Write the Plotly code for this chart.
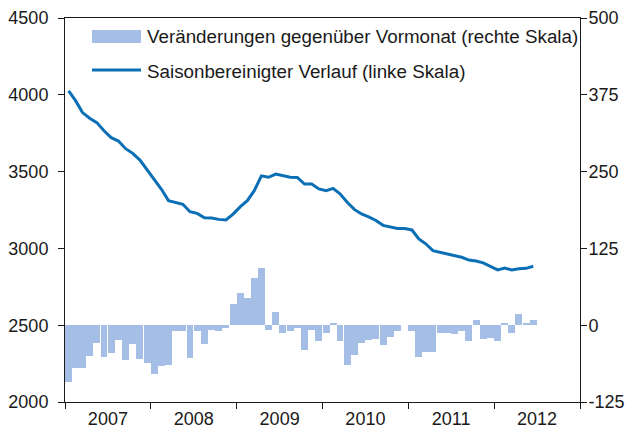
import pandas as pd
import plotly.graph_objects as go

# Monthly observations, January 2007 - June 2012
months = pd.date_range("2007-01-01", periods=66, freq="MS")

# Change versus previous month (right scale)
changes = [
    -92, -70, -70, -50, -29, -52, -45, -24, -57, -31, -55, -61,   # 2007
    -80, -67, -65, -9, -10, -54, -9, -30, -8, -10, -5, 35,         # 2008
    53, 44, 77, 93, -7, 22, -13, -9, -5, -41, -8, -26,             # 2009
    -12, 4, -26, -64, -49, -29, -24, -22, -33, -19, -10, 0,        # 2010
    -10, -51, -43, -43, -12, -13, -15, -10, -26, 9, -23, -21,      # 2011
    -26, 4, -13, 19, 4, 9,                                         # 2012
]

# Seasonally adjusted level (left scale)
level = [
    4025, 3962, 3884, 3847, 3819, 3766, 3721, 3699, 3649, 3619, 3575, 3510,
    3445, 3385, 3311, 3298, 3287, 3239, 3228, 3200, 3198, 3189, 3185, 3223,
    3272, 3311, 3376, 3472, 3463, 3484, 3473, 3463, 3462, 3419, 3419, 3387,
    3376, 3391, 3355, 3300, 3254, 3224, 3205, 3182, 3150, 3141, 3130, 3130,
    3120, 3062, 3030, 2985, 2975, 2963, 2952, 2942, 2924, 2918, 2906, 2884,
    2860, 2872, 2860, 2868, 2870, 2884,
]

left_ticks = [2000, 2500, 3000, 3500, 4000, 4500]
right_ticks = [-125, 0, 125, 250, 375, 500]
right_labels = ["-125", "0", "125", "250", "375", "500"]

bar_name = "Veränderungen gegenüber Vormonat (rechte Skala)"
line_name = "Saisonbereinigter Verlauf (linke Skala)"

BAR_COLOR = "#a4bee6"
LINE_COLOR = "#0b6fb6"
AXIS_COLOR = "#1a1a1a"
FONT = dict(family="Liberation Sans, Arial, sans-serif", size=18, color="#1a1a1a")
LEGEND_FONT = dict(FONT, size=18.8)

W, H = 626, 430
M = dict(l=65, r=46, t=18, b=28)
PW = W - M["l"] - M["r"]
PH = H - M["t"] - M["b"]


def px(x):
    return (x - M["l"]) / PW


def py(y):
    return (H - M["b"] - y) / PH


fig = go.Figure()

fig.add_trace(go.Bar(
    x=months, y=changes, name=bar_name,
    xperiod="M1", xperiodalignment="middle",
    marker=dict(color=BAR_COLOR, line=dict(width=0)),
    yaxis="y", showlegend=False,
))

fig.add_trace(go.Scatter(
    x=months, y=level, name=line_name, mode="lines",
    xperiod="M1", xperiodalignment="middle",
    line=dict(color=LINE_COLOR, width=3),
    yaxis="y2", showlegend=False,
))

axis_common = dict(
    showgrid=False, zeroline=False, showline=True, linecolor=AXIS_COLOR,
    linewidth=1, ticks="outside", ticklen=6, tickcolor=AXIS_COLOR,
    tickfont=FONT, automargin=False,
)

fig.update_layout(
    width=W, height=H, margin=M,
    paper_bgcolor="white", plot_bgcolor="white",
    font=FONT, bargap=0, showlegend=False,
    xaxis=dict(
        type="date", range=["2007-01-01", "2013-01-01"],
        tick0="2007-01-01", dtick="M12", tickformat="%Y",
        ticklabelmode="period", mirror=True, ticklabelstandoff=-6,
        **axis_common,
    ),
    yaxis=dict(
        side="right", range=[-125, 500], tickvals=right_ticks,
        ticktext=right_labels, ticklabelstandoff=-2, **axis_common,
    ),
    yaxis2=dict(
        side="left", overlaying="y", range=[2000, 4500], tickvals=left_ticks,
        ticklabelstandoff=6, **axis_common,
    ),
)

# Legend drawn as swatches and text in the upper part of the plot
fig.add_shape(type="rect", xref="paper", yref="paper",
              x0=px(92), x1=px(141), y0=py(43), y1=py(30),
              fillcolor=BAR_COLOR, line=dict(width=0))
fig.add_shape(type="line", xref="paper", yref="paper",
              x0=px(92), x1=px(141), y0=py(70), y1=py(70),
              line=dict(color=LINE_COLOR, width=3))
fig.add_annotation(text=bar_name, xref="paper", yref="paper",
                   x=px(145), y=py(37), xanchor="left", yanchor="middle",
                   showarrow=False, font=LEGEND_FONT)
fig.add_annotation(text=line_name, xref="paper", yref="paper",
                   x=px(145), y=py(71), xanchor="left", yanchor="middle",
                   showarrow=False, font=LEGEND_FONT)

fig.write_html("out.html")
